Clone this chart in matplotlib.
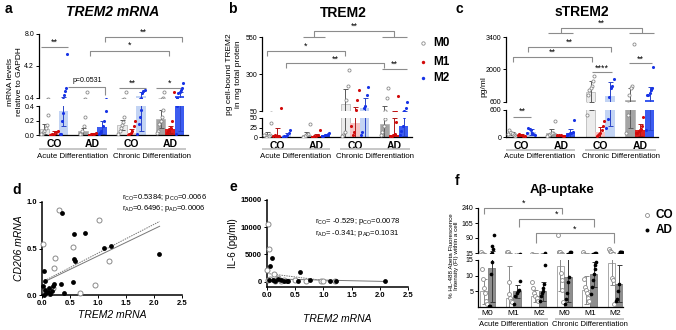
import numpy as np
import matplotlib
matplotlib.use('Agg')
import matplotlib.pyplot as plt
import matplotlib.transforms as mtrans

plt.rcParams['font.family'] = ['Liberation Sans', 'DejaVu Sans']

# ---------------- data ----------------
groups = ['CO', 'AD', 'CO', 'AD']
phases = ['Acute Differentiation', 'Chronic Differentiation']
mtypes = ['M0', 'M1', 'M2']

# order: acute CO M0,M1,M2 | acute AD M0,M1,M2 | chronic CO M0,M1,M2 | chronic AD M0,M1,M2
a_means = [0.08, 0.03, 0.33, 0.05, 0.02, 0.11, 0.14, 0.03, 0.6, 0.22, 0.08, 0.6]
a_sd = [0.07, 0.02, 0.2, 0.05, 0.01, 0.09, 0.07, 0.05, 0.55, 0.12, 0.05, 0.55]
a_pts = [[0.27, 0.14, 0.1, 0.05, 0.03, 0.02, 0.01],
         [0.05, 0.04, 0.02, 0.01, 0.0],
         [5.6, 1.6, 1.2, 0.7, 0.3, 0.2, 0.02, 0.01],
         [1.1, 0.25, 0.12, 0.05, 0.02, 0.01],
         [0.03, 0.02, 0.01, 0.01, 0.0],
         [0.33, 0.2, 0.12, 0.05, 0.03, 0.02],
         [1.1, 0.25, 0.18, 0.14, 0.1, 0.05, 0.02],
         [0.2, 0.12, 0.05, 0.03, 0.01, 0.0],
         [1.4, 1.2, 1.0, 0.35, 0.25, 0.15, 0.02],
         [1.1, 0.35, 0.25, 0.2, 0.15, 0.05, 0.03],
         [1.1, 0.2, 0.1, 0.08, 0.05, 0.03],
         [2.2, 1.6, 1.3, 1.1, 1.0, 0.4, 0.02]]

b_means = [5, 3, 5, 4, 3, 6, 100, 38, 70, 35, 5, 28]
b_sd = [8, 20, 5, 8, 5, 3, 100, 40, 70, 50, 45, 25]
b_pts = [[38, 5, 3, 2, 1, 4, 6],
         [72, 3, 2, 1, 4, 2],
         [18, 10, 5, 3, 2, 1],
         [33, 8, 5, 3, 1],
         [18, 5, 3, 2, 1],
         [10, 8, 6, 5, 3, 2],
         [327, 219, 125, 14, 5, 2],
         [192, 124, 60, 14, 5, 30],
         [210, 160, 84, 70, 14, 5],
         [203, 138, 48, 30, 12, 5],
         [150, 40, 8, 5, 3, 2],
         [110, 68, 52, 30, 15, 5]]

c_means = [80, 40, 110, 80, 40, 80, 1050, 110, 850, 700, 150, 700]
c_sd = [40, 20, 60, 100, 15, 100, 450, 120, 600, 500, 130, 550]
c_pts = [[30, 50, 70, 90, 110, 150, 60],
         [20, 30, 40, 50, 60, 35],
         [40, 60, 100, 150, 180, 200, 90],
         [350, 100, 80, 60, 40, 30],
         [20, 30, 40, 50, 40],
         [380, 120, 100, 80, 60, 50],
         [1700, 1500, 1300, 1200, 1100, 900, 500],
         [350, 250, 150, 80, 60, 40, 30],
         [1600, 1300, 1200, 800, 400, 200],
         [3100, 1300, 1200, 900, 500, 80],
         [450, 250, 180, 150, 130, 100, 80],
         [2100, 1200, 1100, 1000, 900, 900, 150]]

d_co_x = [0.31, 1.01, 0.01, 0.56, 0.24, 1.19, 0.22, 0.95, 0.68, 0.05, 0.1, 0.17, 0.2, 0.13]
d_co_y = [0.91, 0.81, 0.55, 0.52, 0.40, 0.37, 0.29, 0.11, 0.02, 0.04, 0.02, 0.06, 0.08, 0.05]
d_ad_x = [0.36, 0.77, 0.58, 1.11, 1.24, 2.09, 0.58, 0.59, 0.04, 0.56, 0.34, 0.06, 0.01, 0.39,
          0.05, 0.08, 0.12, 0.15, 0.2, 0.03, 0.1, 0.18, 0.22]
d_ad_y = [0.88, 0.67, 0.66, 0.51, 0.53, 0.44, 0.39, 0.37, 0.26, 0.14, 0.12, 0.15, 0.10, 0.02,
          0.05, 0.02, 0.08, 0.01, 0.1, 0.0, 0.03, 0.04, 0.12]
d_fit_co = (0.31, 0.14)   # slope, intercept (dotted)
d_fit_ad = (0.29, 0.13)   # slope, intercept (solid)
d_fit_x = (0.05, 2.1)

e_co_x = [0.01, 0.03, 0.0, 0.12, 0.2, 0.05, 0.3, 0.5, 0.7, 0.95, 1.0, 1.2, 0.15, 0.25, 0.02]
e_co_y = [10500, 5900, 2100, 1400, 700, 500, 300, 200, 150, 100, 50, 100, 100, 50, 200]
e_ad_x = [0.08, 0.05, 0.58, 0.2, 0.03, 0.1, 0.15, 0.3, 0.38, 0.55, 0.77, 1.11, 1.23, 2.09, 0.35, 0.25]
e_ad_y = [4300, 2900, 1800, 500, 300, 200, 100, 150, 100, 80, 250, 60, 50, 20, 50, 200]
e_fit_co = (-1300, 1500)
e_fit_co_x = (0.0, 1.2)
e_fit_ad = (-230, 500)
e_fit_ad_x = (0.0, 2.09)

f_labels = ['M0', 'M1', 'M2', 'M0', 'M1', 'M2']
f_means_co = [5, 3, 3.5, 13, 5.5, 14]
f_means_ad = [12.5, 5, 5, 9.5, 10.5, 7.5]
f_sd_co = [4, 10, 2, 8, 4.5, 7]
f_sd_ad = [11, 2, 3, 8, 4, 6]
f_pts_co = [[22, 12, 9, 6, 4.5, 2, 1],
            [22, 18, 8, 4, 3, 2, 1.5],
            [8, 6, 4.5, 3.5, 2.8, 2],
            [105, 22, 22, 20, 11, 8.6, 5.4, 1.7],
            [22, 9, 6.5, 5.5, 4.5, 3, 2],
            [33, 24, 20, 9.2, 8.6, 1]]
f_pts_ad = [[105, 35, 50, 14.5, 10.5, 0.3, 0.2],
            [8.3, 5.5, 5, 4.5, 3.5, 1],
            [13.5, 7.5, 6, 5, 4.5, 3.5, 2],
            [22, 20, 9.5, 8, 4.5, 2.5, 1],
            [14.5, 13.5, 12, 10.5, 8.5, 6.5, 4],
            [20, 20, 20, 20, 7.5, 5, 2.5, 2]]

# ---------------- figure ----------------
W, H = 676, 330
fig = plt.figure(figsize=(W / 100, H / 100), dpi=100)
PX = mtrans.Affine2D().scale(1, -1).translate(0, H)


def px_axes(x0, y0, x1, y1):
    return fig.add_axes([x0 / W, 1 - y1 / H, (x1 - x0) / W, (y1 - y0) / H])


def yblend(ax):
    return mtrans.blended_transform_factory(ax.transData, PX)


BR = '#8c8c8c'


def bracket(ax, x1, x2, y, d1, d2, text, ty, fs=6.5):
    tr = yblend(ax)
    ax.plot([x1, x1, x2, x2], [y + d1, y, y, y + d2], transform=tr, color=BR,
            lw=0.8, clip_on=False, solid_capstyle='butt')
    ax.text((x1 + x2) / 2, ty, text, transform=tr, ha='center', va='center',
            fontsize=fs)


def hline(ax, x1, x2, y, color='#bdbdbd', lw=1.2):
    ax.plot([x1, x2], [y, y], transform=yblend(ax), color=color, lw=lw,
            clip_on=False, solid_capstyle='butt')


def style_ax(ax, lw=0.9):
    for s in ['top', 'right']:
        ax.spines[s].set_visible(False)
    for s in ['left', 'bottom']:
        ax.spines[s].set_linewidth(lw)
    ax.tick_params(direction='out', length=2.5, width=0.7, labelsize=5, pad=1)


fills = {('CO', 0): '#ececec', ('CO', 1): '#f4c4c4', ('CO', 2): '#c3d4f4',
         ('AD', 0): '#a4a4a4', ('AD', 1): '#dc1f1f', ('AD', 2): '#3c5cf0'}
errc = ['#5a5a5a', '#b01818', '#2a44c8']
ptc = ['#8a8a8a', '#d20a0a', '#1733e6']
OFFS = [-0.245, 0.0, 0.245]
BW = 0.245
XL = (-0.385, 3.46)


def draw_bars(ax, means, sds, pts):
    for i in range(12):
        g, m = divmod(i, 3)
        x = g + OFFS[m]
        fc = fills[(groups[g], m)]
        ec = '#b0b0b0' if m == 0 else 'none'
        ax.bar(x, means[i], width=BW, color=fc, edgecolor=ec, lw=0.5, zorder=1)
        ax.errorbar(x, means[i], yerr=sds[i], color=errc[m], lw=0.7, capsize=1.8,
                    capthick=0.7, zorder=2)
        pv = pts[i]
        xs = x + np.linspace(-BW * 0.38, BW * 0.38, len(pv))[::-1]
        if m == 0:
            ax.scatter(xs, pv, s=5, facecolor='white', edgecolor=ptc[0], lw=0.6, zorder=3)
        else:
            ax.scatter(xs, pv, s=5, color=ptc[m], lw=0, zorder=3)


def bar_panel(up_rect, lo_rect, ylim_up, ylim_lo, ticks_up, ticks_lo, tl_up, tl_lo,
              means, sds, pts, under_y=149):
    axu = px_axes(*up_rect)
    axl = px_axes(*lo_rect)
    for ax in (axu, axl):
        draw_bars(ax, means, sds, pts)
        style_ax(ax)
        ax.set_xlim(*XL)
    axu.set_ylim(*ylim_up)
    axl.set_ylim(*ylim_lo)
    axu.set_yticks(ticks_up)
    axu.set_yticklabels(tl_up)
    axl.set_yticks(ticks_lo)
    axl.set_yticklabels(tl_lo)
    axu.spines['bottom'].set_visible(False)
    axu.set_xticks([])
    axl.set_xticks(range(4))
    axl.set_xticklabels(groups, fontsize=7.5, fontweight='bold')
    axl.tick_params(axis='x', length=0, pad=3)
    hline(axl, -0.38, 1.36, under_y)
    hline(axl, 1.62, 3.41, under_y)
    tr = yblend(axl)
    axl.text(0.47, under_y + 7, phases[0], transform=tr, ha='center', va='center', fontsize=5.7)
    axl.text(2.52, under_y + 7, phases[1], transform=tr, ha='center', va='center', fontsize=5.7)
    return axu, axl


# ---- panel a ----
au, al = bar_panel((39, 34, 188, 98), (39, 106, 188, 135), (0.4, 8.0), (0, 0.4),
                   [0.4, 4.2, 8.0], [0, 0.2, 0.4], ['0.4', '4.2', '8.0'], ['0.0', '0.2', '0.4'],
                   a_means, a_sd, a_pts)
bracket(au, -0.34, 0.37, 47, 0, 0, '**', 42)
bracket(au, 0.37, 1.33, 87, 0, 8, '', 80)
au.text(0.85, 80, 'p=0.0531', transform=yblend(au), ha='center', va='center', fontsize=5)
bracket(au, 0.94, 2.97, 51, 5, 5, '*', 45)
bracket(au, 1.31, 3.30, 37, 5, 5, '**', 32)
bracket(au, 1.68, 2.38, 88, 0, 0, '**', 83)
bracket(au, 2.63, 3.32, 88, 0, 0, '*', 83)

# ---- panel b ----
bu, bl = bar_panel((262, 37, 412, 111), (262, 118, 412, 137), (50, 550), (0, 50),
                   [50, 300, 550], [0, 25, 50], ['50', '300', '550'], ['0', '25', '50'],
                   b_means, b_sd, b_pts)
hline(bu, 0.67, 1.22, 37, color=BR, lw=0.8)
hline(bu, 2.68, 3.34, 37, color=BR, lw=0.8)
bracket(bu, 0.95, 3.0, 31, 6, 6, '**', 26)
bracket(bu, -0.26, 1.75, 51, 5, 5, '*', 46)
bracket(bu, 0.22, 2.75, 63, 5, 5, '**', 59)
bracket(bu, 2.68, 3.34, 69, 0, 0, '**', 64)

# ---- panel c ----
cu, cl = bar_panel((506, 37, 658, 102), (506, 110, 658, 137), (600, 3400), (0, 600),
                   [600, 2000, 3400], [0, 600], ['600', '2000', '3400'], ['0', '600'],
                   c_means, c_sd, c_pts, under_y=150)
hline(cu, 0.69, 1.32, 33, color=BR, lw=0.8)
hline(cu, 2.72, 3.36, 33, color=BR, lw=0.8)
bracket(cu, 1.01, 3.05, 28, 5, 5, '**', 23)
bracket(cu, 0.18, 2.26, 47, 5, 5, '**', 42)
bracket(cu, -0.22, 1.79, 57, 5, 5, '**', 52)
bracket(cu, 1.79, 2.30, 72, 0, 0, '****', 68)
bracket(cu, 2.72, 3.32, 63, 0, 0, '**', 59)
bracket(cl, -0.2, 0.26, 117, 0, 0, '**', 111)

# ---- panel d ----
ad = px_axes(42, 202, 182, 295)
style_ax(ad, lw=1.1)
ad.scatter(d_co_x, d_co_y, s=13, facecolor='white', edgecolor='#8a8a8a', lw=0.7, zorder=3, clip_on=False)
ad.scatter(d_ad_x, d_ad_y, s=12, color='black', lw=0, zorder=4, clip_on=False)
xx = np.array(d_fit_x)
ad.plot(xx, d_fit_co[0] * xx + d_fit_co[1], ls=(0, (1.5, 1)), color='#777777', lw=0.7)
ad.plot(xx, d_fit_ad[0] * xx + d_fit_ad[1], color='#777777', lw=0.7)
ad.set_xlim(0, 2.5)
ad.set_ylim(0, 1.0)
ad.set_xticks([0, 0.5, 1.0, 1.5, 2.0, 2.5])
ad.set_yticks([0, 0.5, 1.0])
ad.set_xticklabels(['0.0', '0.5', '1.0', '1.5', '2.0', '2.5'], fontweight='bold', fontsize=5.5)
ad.set_yticklabels(['0.0', '0.5', '1.0'], fontweight='bold', fontsize=5.5)
ad.set_xlabel('TREM2 mRNA', fontsize=7.5, style='italic', labelpad=2)
ad.set_ylabel('CD206 mRNA', fontsize=7.5, style='italic', labelpad=2)
ad.text(0.57, 1.05, r'r$_{\mathregular{CO}}$=0.5384; p$_{\mathregular{CO}}$=0.0066',
        transform=ad.transAxes, fontsize=5.5, va='center')
ad.text(0.57, 0.935, r'r$_{\mathregular{AD}}$=0.6496; p$_{\mathregular{AD}}$=0.0006',
        transform=ad.transAxes, fontsize=5.5, va='center')

# ---- panel e ----
ae = px_axes(267, 200, 408, 287)
style_ax(ae, lw=1.1)
ae.scatter(e_co_x, e_co_y, s=13, facecolor='white', edgecolor='#8a8a8a', lw=0.7, zorder=3, clip_on=False)
ae.scatter(e_ad_x, e_ad_y, s=12, color='black', lw=0, zorder=4, clip_on=False)
x1 = np.array(e_fit_co_x)
x2 = np.array(e_fit_ad_x)
ae.plot(x1, e_fit_co[0] * x1 + e_fit_co[1], ls=(0, (1.5, 1)), color='#777777', lw=0.7)
ae.plot(x2, e_fit_ad[0] * x2 + e_fit_ad[1], color='#777777', lw=0.7)
ae.set_xlim(0, 2.5)
ae.set_ylim(-1000, 15000)
ae.set_xticks([0, 0.5, 1.0, 1.5, 2.0, 2.5])
ae.set_yticks([0, 5000, 10000, 15000])
ae.set_xticklabels(['0.0', '0.5', '1.0', '1.5', '2.0', '2.5'], fontweight='bold', fontsize=5.5)
ae.set_yticklabels(['0', '5000', '10000', '15000'], fontweight='bold', fontsize=5.5)
ae.set_xlabel('TREM2 mRNA', fontsize=7.5, style='italic', labelpad=11)
ae.set_ylabel('IL-6 (pg/ml)', fontsize=7, labelpad=2)
ae.text(0.34, 0.75, r'r$_{\mathregular{CO}}$= -0.529; p$_{\mathregular{CO}}$=0.0078',
        transform=ae.transAxes, fontsize=5.5, va='center')
ae.text(0.34, 0.615, r'r$_{\mathregular{AD}}$= -0.341; p$_{\mathregular{AD}}$=0.1031',
        transform=ae.transAxes, fontsize=5.5, va='center')

# ---- panel f ----
fu = px_axes(478, 208, 623, 253)
fl = px_axes(478, 260, 623, 307)
FO = 0.15
FW = 0.3
for ax in (fu, fl):
    style_ax(ax)
    for i in range(6):
        xc, xa = i - FO, i + FO
        ax.bar(xc, f_means_co[i], width=FW, color='white', edgecolor='#9a9a9a', lw=0.6, zorder=1)
        ax.bar(xa, f_means_ad[i], width=FW, color='#8e8e8e', edgecolor='#7a7a7a', lw=0.6, zorder=1)
        ax.errorbar(xc, f_means_co[i], yerr=f_sd_co[i], color='#8a8a8a', lw=0.7, capsize=1.8, capthick=0.7, zorder=2)
        ax.errorbar(xa, f_means_ad[i], yerr=f_sd_ad[i], color='#3a3a3a', lw=0.7, capsize=1.8, capthick=0.7, zorder=2)
        pc = f_pts_co[i]
        pa = f_pts_ad[i]
        ax.scatter(xc + np.linspace(-FW * 0.35, FW * 0.35, len(pc)), pc, s=8, facecolor='white',
                   edgecolor='#8a8a8a', lw=0.6, zorder=3)
        ax.scatter(xa + np.linspace(-FW * 0.35, FW * 0.35, len(pa))[::-1], pa, s=7, color='black',
                   lw=0, zorder=3)
    ax.set_xlim(-0.38, 5.3)
fu.set_ylim(15, 240)
fl.set_ylim(0, 15)
fu.set_yticks([15, 90, 165, 240])
fl.set_yticks([5, 10, 15])
fu.spines['bottom'].set_visible(False)
fu.set_xticks([])
fl.set_xticks(range(6))
fl.set_xticklabels(f_labels, fontsize=6)
fl.tick_params(axis='x', length=0, pad=2)
hline(fl, -0.38, 2.35, 319)
hline(fl, 2.65, 5.35, 319)
trf = yblend(fl)
fl.text(1.0, 325, phases[0], transform=trf, ha='center', va='center', fontsize=5.5)
fl.text(4.0, 325, phases[1], transform=trf, ha='center', va='center', fontsize=5.5)
bracket(fu, -0.14, 2.93, 208, 6, 6, '*', 203)
bracket(fu, 1.23, 4.17, 219, 8, 8, '*', 214)
bracket(fu, 1.88, 4.93, 233, 10, 10, '*', 229)

# ---------------- overlay: labels, titles, legends ----------------
ov = fig.add_axes([0, 0, 1, 1], zorder=10)
ov.set_xlim(0, W)
ov.set_ylim(H, 0)
ov.axis('off')
ov.patch.set_alpha(0)

for lab, x, y in [('a', 5, 9), ('b', 228, 9), ('c', 455, 9), ('d', 12, 190), ('e', 230, 187), ('f', 455, 181)]:
    ov.text(x, y, lab, fontsize=10, fontweight='bold', ha='left', va='center')

ov.text(113, 12, 'TREM2 mRNA', fontsize=10, fontweight='bold', style='italic', ha='center', va='center')
ov.text(343, 13, 'TREM2', fontsize=10, fontweight='bold', ha='center', va='center')
ov.text(582, 12, 'sTREM2', fontsize=10, fontweight='bold', ha='center', va='center')
ov.text(562, 190, 'A\u03b2-uptake', fontsize=9.5, fontweight='bold', ha='center', va='center')

ov.text(15, 82, 'mRNA levels\nrelative to GAPDH', rotation=90, fontsize=6, ha='center', va='center',
        linespacing=1.3)
ov.text(234, 74, 'pg cell-bound TREM2\nin mg total protein', rotation=90, fontsize=6, ha='center',
        va='center', linespacing=1.3)
ov.text(484, 87, 'pg/ml', rotation=90, fontsize=6, ha='center', va='center')
ov.text(454, 256, '% HL-488 Abeta Fluorescence\nIntensity (FI) within a cell', rotation=90,
        fontsize=4.5, ha='center', va='center', linespacing=1.1)

# legend b
for lab, y, k in [('M0', 43, 0), ('M1', 62, 1), ('M2', 78, 2)]:
    if k == 0:
        ov.scatter([423], [y], s=6, facecolor='white', edgecolor=ptc[0], lw=0.6)
    else:
        ov.scatter([423], [y], s=6, color=ptc[k], lw=0)
    ov.text(433, y, lab, fontsize=8.5, fontweight='bold', va='center', ha='left')

# legend f
ov.scatter([647], [215], s=8, facecolor='white', edgecolor='#8a8a8a', lw=0.6)
ov.text(656, 215, 'CO', fontsize=8.5, fontweight='bold', va='center', ha='left')
ov.scatter([647], [230], s=8, color='black', lw=0)
ov.text(656, 230, 'AD', fontsize=8.5, fontweight='bold', va='center', ha='left')

fig.savefig('out.png', dpi=100)
